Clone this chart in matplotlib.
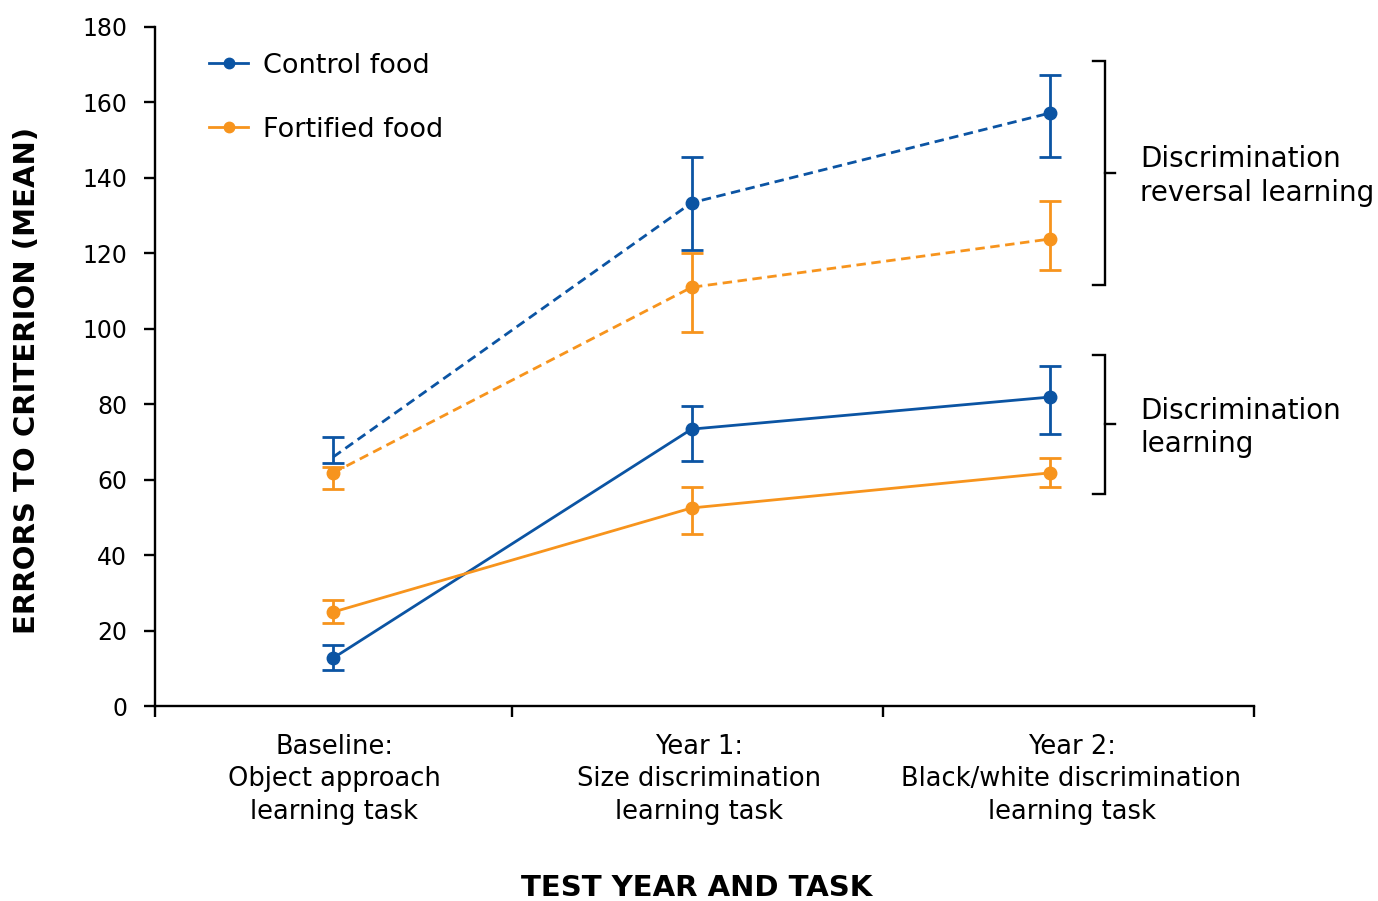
import numpy as np
import matplotlib
matplotlib.use('Agg')
import matplotlib.pyplot as plt
from matplotlib.lines import Line2D
import matplotlib.transforms as mtransforms

plt.rcParams['font.family'] = ['DejaVu Sans']

# data
tasks = ['Baseline:\nObject approach\nlearning task',
         'Year 1:\nSize discrimination\nlearning task',
         'Year 2:\nBlack/white discrimination\nlearning task']
x = np.array([0, 1, 2])

ctrl_learn = [12.7, 73.4, 81.9]
ctrl_learn_lo = [9.5, 65.0, 72.1]
ctrl_learn_hi = [16.2, 79.5, 90.1]

fort_learn = [24.9, 52.5, 61.8]
fort_learn_lo = [22.0, 45.6, 58.1]
fort_learn_hi = [28.1, 58.1, 65.7]

ctrl_rev = [66.0, 133.4, 157.2]
ctrl_rev_lo = [64.4, 120.9, 145.5]
ctrl_rev_hi = [71.3, 145.5, 167.3]

fort_rev = [61.8, 111.0, 123.8]
fort_rev_lo = [57.5, 99.2, 115.6]
fort_rev_hi = [63.4, 120.1, 133.9]

yticks = [0, 20, 40, 60, 80, 100, 120, 140, 160, 180]

blue = '#0b54a3'
orange = '#f7941d'

fig = plt.figure(figsize=(13.78, 9.01), dpi=100)
ax = fig.add_axes([155/1378, 1-706/901, 1099/1378, 679/901])

def series(y, lo, hi, color, ls, markevery=None):
    y = np.array(y)
    err = [y - np.array(lo), np.array(hi) - y]
    ax.errorbar(x, y, yerr=err, fmt='none', ecolor=color, elinewidth=2.0,
                capsize=8, capthick=2.0, zorder=2)
    ax.plot(x, y, color=color, lw=2.0, ls=ls, marker='o', ms=9,
            markevery=markevery, zorder=3)

series(ctrl_rev, ctrl_rev_lo, ctrl_rev_hi, blue, (0, (3.4, 2.0)), markevery=[1, 2])
series(fort_rev, fort_rev_lo, fort_rev_hi, orange, (0, (3.4, 2.0)))
series(ctrl_learn, ctrl_learn_lo, ctrl_learn_hi, blue, '-')
series(fort_learn, fort_learn_lo, fort_learn_hi, orange, '-')

ax.set_xlim(-0.497, 2.569)
ax.set_ylim(0, 180)
ax.set_yticks(yticks)
ax.set_xticks([-0.497, 0.499, 1.534, 2.569])
ax.set_xticklabels([])
for s in ['top', 'right']:
    ax.spines[s].set_visible(False)
for s in ['left', 'bottom']:
    ax.spines[s].set_linewidth(1.7)
ax.tick_params(axis='y', length=8, width=1.7, labelsize=17, pad=12)
ax.tick_params(axis='x', length=8, width=1.7)

# category labels
trans = mtransforms.blended_transform_factory(ax.transData, ax.transAxes)
for xc, t in zip([0.003, 1.02, 2.06], tasks):
    ax.text(xc, -0.041, t, transform=trans, ha='center', va='top',
            fontsize=18.5, linespacing=1.33)

fig.text(27/1378, 1-380/901, 'ERRORS TO CRITERION (MEAN)', rotation=90,
         ha='center', va='center', fontsize=21, fontweight='bold')
fig.text(697/1378, 1-888/901, 'TEST YEAR AND TASK', ha='center', va='center',
         fontsize=21, fontweight='bold')

# legend
handles = [Line2D([], [], color=blue, lw=2.0, marker='o', ms=7.5),
           Line2D([], [], color=orange, lw=2.0, marker='o', ms=7.5)]
ax.legend(handles, ['Control food', 'Fortified food'], loc='upper left',
          bbox_to_anchor=(0.027, 0.998), frameon=False, fontsize=19.5,
          handlelength=1.45, handletextpad=0.55, labelspacing=1.4)

# brackets
def bracket(y0, y1, x0=2.12, x1=2.153, x2=2.181):
    ym = (y0 + y1) / 2
    ax.plot([x0, x1, x1, x0], [y0, y0, y1, y1], color='black', lw=1.7,
            clip_on=False, solid_joinstyle='miter')
    ax.plot([x1, x2], [ym, ym], color='black', lw=1.7, clip_on=False)
    return ym

m1 = bracket(111.6, 171.0)
m2 = bracket(56.2, 93.1)
ax.text(2.251, m1 - 0.8, 'Discrimination\nreversal learning', ha='left',
        va='center', fontsize=20, linespacing=1.25)
ax.text(2.251, m2 - 0.8, 'Discrimination\nlearning', ha='left',
        va='center', fontsize=20, linespacing=1.25)

fig.savefig('out.png', dpi=100)
